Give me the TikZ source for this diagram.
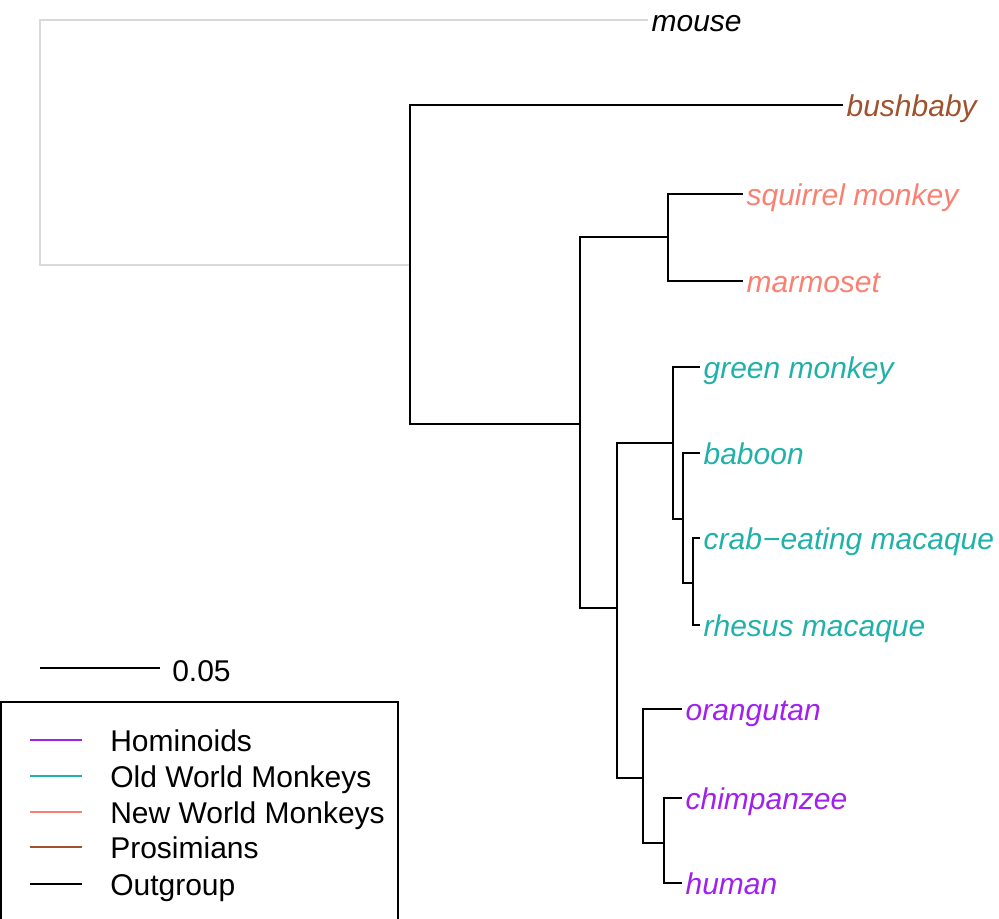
\documentclass[tikz,border=0pt]{standalone}
\usepackage{fontspec}
\setmainfont{Liberation Sans}
\definecolor{homc}{HTML}{A020F0}
\definecolor{owmc}{HTML}{20B2AA}
\definecolor{nwmc}{HTML}{FA8072}
\definecolor{proc}{HTML}{A0522D}
\definecolor{outc}{HTML}{D9D9D9}
\begin{document}
\begin{tikzpicture}[x=0.75pt,y=-0.75pt,
  txt/.style={font=\fontsize{22.5}{26}\selectfont, inner ysep=0pt, text height=17.5pt, text depth=0.3pt},
  leaf/.style={txt, font=\fontsize{22.5}{26}\selectfont\itshape, anchor=west, inner xsep=2.5pt},
  br/.style={line width=1.6pt, black},
  graybr/.style={line width=1.1pt, outc},
  legline/.style={line width=1.3pt},
  legtxt/.style={txt, anchor=west, inner xsep=0pt}]
\useasboundingbox (0,0) rectangle (999,918);

% internal nodes of the tree
\coordinate (root) at (40,142);
\coordinate (prim) at (410,265);
\coordinate (anth) at (580,424);
\coordinate (nwm)  at (668,237);
\coordinate (cat)  at (617,608);
\coordinate (owm)  at (673,443);
\coordinate (pap)  at (683,519);
\coordinate (mac)  at (693,583);
\coordinate (hom)  at (643,778);
\coordinate (hc)   at (664,843);

% tips
\node[leaf, text=black] (mouse) at (648,20) {mouse};
\node[leaf, text=proc] (bush) at (843,105) {bushbaby};
\node[leaf, text=nwmc] (squ) at (743,194) {squirrel monkey};
\node[leaf, text=nwmc] (mar) at (743,281) {marmoset};
\node[leaf, text=owmc] (gre) at (700,367) {green monkey};
\node[leaf, text=owmc] (bab) at (700,453) {baboon};
\node[leaf, text=owmc] (cra) at (700,538) {crab\kern0.02em−\kern0.02em eating macaque};
\node[leaf, text=owmc] (rhe) at (700,625) {rhesus macaque};
\node[leaf, text=homc] (ora) at (682,709) {orangutan};
\node[leaf, text=homc] (chi) at (682,798) {chimpanzee};
\node[leaf, text=homc] (hum) at (682,883) {human};

% outgroup branches
\draw[graybr] (root) |- (mouse.west);
\draw[graybr] (root) |- (prim);

% primate branches
\draw[br] (prim) |- (bush.west);
\draw[br] (prim) |- (anth);
\draw[br] (anth) |- (nwm);
\draw[br] (anth) |- (cat);
\draw[br] (nwm) |- (squ.west);
\draw[br] (nwm) |- (mar.west);
\draw[br] (cat) |- (owm);
\draw[br] (cat) |- (hom);
\draw[br] (owm) |- (gre.west);
\draw[br] (owm) |- (pap);
\draw[br] (pap) |- (bab.west);
\draw[br] (pap) |- (mac);
\draw[br] (mac) |- (cra.west);
\draw[br] (mac) |- (rhe.west);
\draw[br] (hom) |- (ora.west);
\draw[br] (hom) |- (hc);
\draw[br] (hc) |- (chi.west);
\draw[br] (hc) |- (hum.west);

% scale bar
\coordinate (sb0) at (40,668);
\node[legtxt] (sbl) at (172,670) {0.05};
\draw[br] (sb0) -- (160,668);

% legend
\begin{scope}
\clip (0,0) rectangle (999,918);
\draw[line width=1.1pt] (1,702) rectangle (398,940);
\end{scope}
\foreach \y/\c/\t [count=\i] in {740/homc/Hominoids, 776/owmc/Old World Monkeys, 812/nwmc/New World Monkeys, 847/proc/Prosimians, 884/black/Outgroup}{
  \node[legtxt] (lg\i) at (110,\y) {\t};
  \coordinate (lgs\i) at (30,\y);
  \draw[legline, \c] (lgs\i) -- (82,\y);
}
\end{tikzpicture}
\end{document}
